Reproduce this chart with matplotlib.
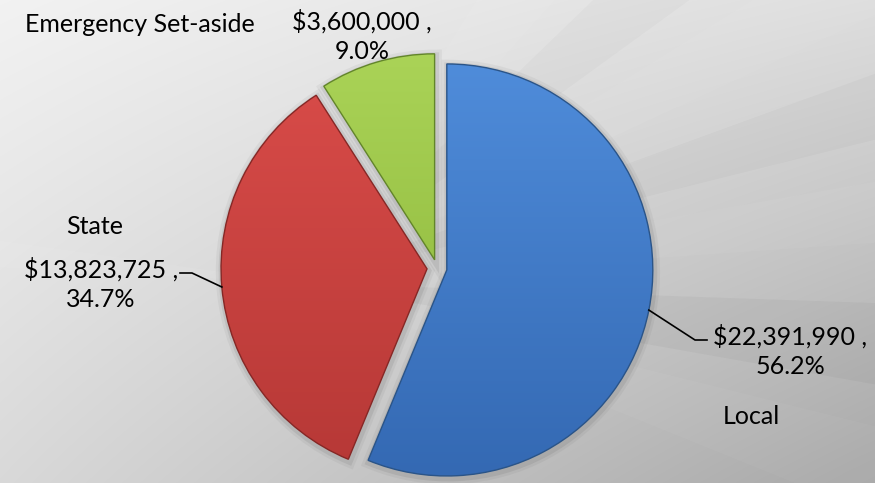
import numpy as np
import matplotlib
matplotlib.use("Agg")
import matplotlib.pyplot as plt
from matplotlib.colors import LinearSegmentedColormap
from matplotlib.patches import Polygon, Wedge

# Funding split
categories = ["Local", "State", "Emergency Set-aside"]
amounts = [22391990, 13823725, 3600000]
explode = [10, 10, 8.5]  # offsets in data units (pixels here)

face_top = ["#4f8cda", "#d94c49", "#aad357"]
face_bottom = ["#3469b3", "#b63836", "#88b236"]
edge_cols = ["#2a5488", "#862725", "#62852a"]

W, H = 875, 483
plt.rcParams["font.family"] = ["Lato", "DejaVu Sans"]

fig = plt.figure(figsize=(W / 100, H / 100), dpi=100)
ax = fig.add_axes([0, 0, 1, 1])

# grey backdrop, light top-left to darker bottom-right
xn, yn = np.meshgrid(np.linspace(0, 1, W), np.linspace(0, 1, H))
bg = 0.95 - 0.08 * xn - 0.10 * yn - 0.11 * xn * yn
ax.imshow(np.dstack([bg] * 3), extent=(0, W, 0, H), origin="upper", zorder=0)

# faint rays fanning out to the right
ox, oy = 300, 200
ray_angles = [(48, 58, "w", 0.05), (36, 44, "k", 0.02), (25, 32, "w", 0.05),
              (14, 20, "k", 0.025), (4, 10, "w", 0.04), (-10, -2, "k", 0.03),
              (-22, -14, "w", 0.035), (172, 177, "w", 0.06)]
for a1, a2, c, al in ray_angles:
    t1, t2 = np.radians(a1), np.radians(a2)
    L = 1400
    ax.add_patch(Polygon([(ox, oy), (ox + L * np.cos(t1), oy + L * np.sin(t1)),
                          (ox + L * np.cos(t2), oy + L * np.sin(t2))],
                         closed=True, facecolor=c, edgecolor="none", alpha=al, zorder=0.5))

wedges, _ = ax.pie(amounts, explode=explode, startangle=90, counterclock=False,
                   center=(437, 215), radius=206,
                   wedgeprops=dict(linewidth=1.0, zorder=3))

# soft shadow, then a vertical gradient clipped to each wedge
for w, top, bot, ec in zip(wedges, face_top, face_bottom, edge_cols):
    cx, cy = w.center
    r = w.r
    for lw, al in [(9, 0.06), (5, 0.10)]:
        ax.add_patch(Wedge((cx + 1, cy - 2), r, w.theta1, w.theta2, facecolor="none",
                           edgecolor="#404040", lw=lw, alpha=al, zorder=1.5))
    cmap = LinearSegmentedColormap.from_list("s", [top, bot])
    grad = np.linspace(0, 1, 256).reshape(-1, 1)
    im = ax.imshow(grad, cmap=cmap, extent=(cx - r, cx + r, cy - r, cy + r),
                   origin="upper", aspect="auto", zorder=2)
    im.set_clip_path(w)
    w.set_facecolor("none")
    w.set_edgecolor(ec)

total = sum(amounts)
labels = [f"${v:,.0f} ,\n{v / total * 100:.1f}%" for v in amounts]


def arc_mid(w):
    mid = np.radians((w.theta1 + w.theta2) / 2)
    cx, cy = w.center
    return cx + w.r * np.cos(mid), cy + w.r * np.sin(mid)


fs = 18
# Local
px, py = arc_mid(wedges[0])
ax.plot([px, 695, 707], [py, 143, 143], color="black", lw=1.2, zorder=4)
ax.text(790, 132, labels[0], ha="center", va="center", fontsize=fs, linespacing=1.3)
ax.text(751, 66, categories[0], ha="center", va="center", fontsize=fs)

# State
px, py = arc_mid(wedges[1])
ax.plot([px, 192, 180], [py, 210, 210], color="black", lw=1.2, zorder=4)
ax.text(101, 199, labels[1], ha="center", va="center", fontsize=fs, linespacing=1.3)
ax.text(95, 256, categories[1], ha="center", va="center", fontsize=fs)

# Emergency Set-aside
ax.text(362, 447, labels[2], ha="center", va="center", fontsize=fs, linespacing=1.3)
ax.text(140, 459, categories[2], ha="center", va="center", fontsize=fs)

ax.set_xlim(0, W)
ax.set_ylim(0, H)
ax.axis("off")
fig.savefig("out.png", dpi=100)
